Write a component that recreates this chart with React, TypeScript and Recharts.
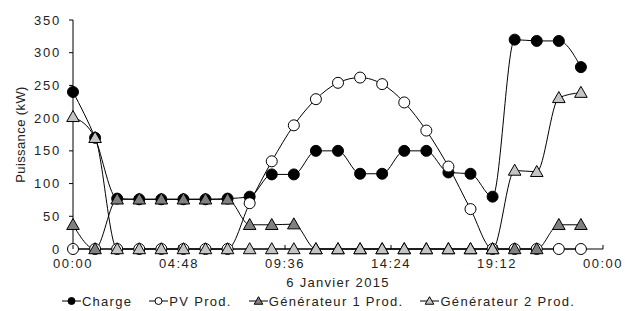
import { LineChart, Line, XAxis, YAxis, Legend } from "recharts"

// hourly readings, 6 Jan 2015 (kW)
const hours = [0, 1, 2, 3, 4, 5, 6, 7, 8, 9, 10, 11, 12, 13, 14, 15, 16, 17, 18, 19, 20, 21, 22, 23]
const charge = [240, 170, 77, 76, 76, 76, 76, 77, 80, 114, 114, 150, 150, 115, 115, 150, 150, 117, 115, 80, 320, 318, 318, 278]
const pvProd = [0, 0, 0, 0, 0, 0, 0, 0, 70, 134, 189, 229, 254, 262, 252, 224, 181, 126, 61, 0, 0, 0, 0, 0]
const gen1 = [37, 0, 76, 76, 76, 76, 76, 76, 37, 37, 38, 0, 0, 0, 0, 0, 0, 0, 0, 0, 0, 0, 37, 37]
const gen2 = [202, 170, 0, 0, 0, 0, 0, 0, 0, 0, 0, 0, 0, 0, 0, 0, 0, 0, 0, 0, 120, 118, 231, 239]

const xTicks = [0, 4.8, 9.6, 14.4, 19.2, 24]
const yTicks = [0, 50, 100, 150, 200, 250, 300, 350]

const data = hours.map((h, i) => ({
  h,
  charge: charge[i],
  pv: pvProd[i],
  gen1: gen1[i],
  gen2: gen2[i],
}))

type Shape = "circle" | "triangle"
const series: { key: string; name: string; shape: Shape; fill: string }[] = [
  { key: "charge", name: "Charge", shape: "circle", fill: "#000" },
  { key: "pv", name: "PV Prod.", shape: "circle", fill: "#fff" },
  { key: "gen1", name: "Générateur 1 Prod.", shape: "triangle", fill: "#808080" },
  { key: "gen2", name: "Générateur 2 Prod.", shape: "triangle", fill: "#c4c4c4" },
]

const FONT = "'Liberation Sans', Arial, sans-serif"

function Marker({ cx, cy, shape, fill, size = 5.5 }: { cx: number; cy: number; shape: Shape; fill: string; size?: number }) {
  if (shape === "circle") {
    return <circle cx={cx} cy={cy} r={size} fill={fill} stroke="#000" strokeWidth={1} />
  }
  const s = size + 0.8
  const pts = `${cx},${cy - s} ${cx - s},${cy + s * 0.75} ${cx + s},${cy + s * 0.75}`
  return <polygon points={pts} fill={fill} stroke="#000" strokeWidth={1} />
}

const fmtHour = (v: number) => {
  const mins = Math.round(v * 60) % (24 * 60)
  const hh = String(Math.floor(mins / 60)).padStart(2, "0")
  const mm = String(mins % 60).padStart(2, "0")
  return `${hh}:${mm}`
}

function XTick(props: any) {
  const { x, y, payload } = props
  const axisY = y - 10
  return (
    <g>
      <line x1={x} x2={x} y1={axisY} y2={axisY - 4} stroke="#000" strokeWidth={1} />
      <text x={x} y={y} dy="0.71em" textAnchor="middle" fontSize={13} fill="#222" fontFamily={FONT} letterSpacing={1.5}>
        {fmtHour(payload.value)}
      </text>
    </g>
  )
}

function YLabel(props: any) {
  const vb = props.viewBox || { y: 20, height: 229 }
  const cy = vb.y + vb.height / 2
  return (
    <text
      x={20}
      y={cy}
      transform={`rotate(-90 20 ${cy})`}
      textAnchor="middle"
      dominantBaseline="central"
      fontSize={13}
      fill="#222"
      fontFamily={FONT}
      letterSpacing={0.4}
    >
      Puissance (kW)
    </text>
  )
}

function LegendBox() {
  return (
    <div
      style={{
        display: "flex",
        justifyContent: "center",
        alignItems: "center",
        height: 20,
        gap: 17,
        paddingLeft: 34,
        fontFamily: FONT,
        fontSize: 13,
        letterSpacing: 1.3,
        color: "#222",
      }}
    >
      {series.map((s) => (
        <div key={s.key} style={{ display: "flex", alignItems: "center" }}>
          <svg width={19} height={10} style={{ marginRight: 1 }}>
            <line x1={0} x2={19} y1={5} y2={5} stroke="#000" strokeWidth={1} />
            <Marker cx={9.5} cy={5} shape={s.shape} fill={s.fill} size={3.5} />
          </svg>
          <span>{s.name}</span>
        </div>
      ))}
    </div>
  )
}

export default function App() {
  return (
    <div style={{ position: "absolute", left: 0, top: 0, background: "#fff" }}>
      <LineChart width={625} height={311} data={data} margin={{ top: 20, right: 22, left: 0, bottom: 0 }} style={{ fontFamily: FONT }}>
        <XAxis
          dataKey="h"
          type="number"
          domain={[0, 24]}
          ticks={xTicks}
          interval={0}
          height={42}
          tickSize={0}
          tickMargin={10}
          axisLine={{ stroke: "#000" }}
          tickLine={false}
          tick={<XTick />}
          label={{
            value: "6 Janvier 2015",
            position: "insideBottom",
            offset: 4,
            fontSize: 13,
            fill: "#222",
            fontFamily: FONT,
            style: { letterSpacing: 1.3 },
          }}
        />
        <YAxis
          type="number"
          domain={[0, 350]}
          ticks={yTicks}
          interval={0}
          width={73}
          tickSize={4}
          tickMargin={8}
          axisLine={{ stroke: "#000" }}
          tickLine={{ stroke: "#000" }}
          tick={{ fontSize: 13, fill: "#222", fontFamily: FONT, letterSpacing: 1.8 }}
          label={<YLabel />}
        />
        <Legend verticalAlign="bottom" content={() => <LegendBox />} />
        {series.map((s) => (
          <Line
            key={s.key}
            dataKey={s.key}
            name={s.name}
            type="monotone"
            stroke="#000"
            strokeWidth={1}
            isAnimationActive={false}
            activeDot={false}
            dot={(p: any) => <Marker key={`${s.key}-${p.index}`} cx={p.cx} cy={p.cy} shape={s.shape} fill={s.fill} />}
          />
        ))}
      </LineChart>
    </div>
  )
}
